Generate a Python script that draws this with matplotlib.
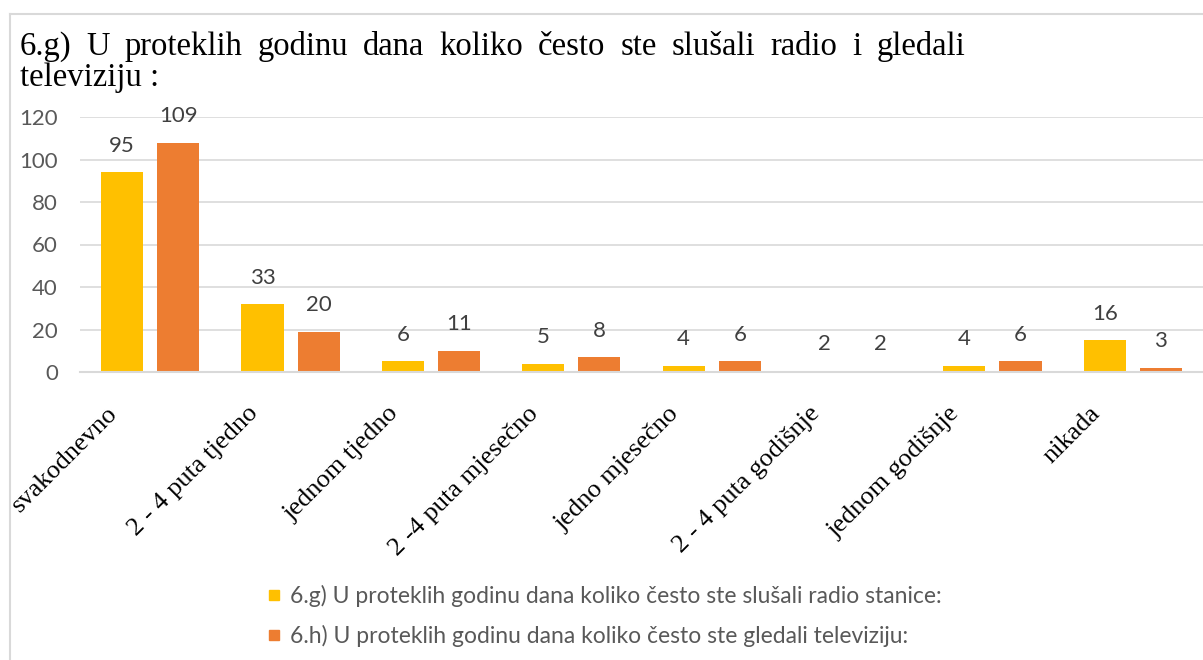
import matplotlib
matplotlib.use("Agg")
import matplotlib.pyplot as plt
import matplotlib.transforms as mtransforms
from matplotlib.font_manager import FontProperties
from matplotlib.lines import Line2D
import numpy as np

# data
categories = ["svakodnevno", "2 - 4 puta tjedno", "jednom tjedno", "2 -4 puta mjesečno",
              "jedno mjesečno", "2 - 4 puta godišnje", "jednom godišnje", "nikada"]
radio_bars = [94, 32, 5, 4, 3, 0.6, 3, 15]
tv_bars    = [108, 19, 10, 7, 5, 0.6, 5, 2]
radio_labels = [95, 33, 6, 5, 4, 2, 4, 16]
tv_labels    = [109, 20, 11, 8, 6, 2, 6, 3]
yticks = [0, 20, 40, 60, 80, 100, 120]

title_line1 = "6.g) U proteklih godinu dana koliko često ste slušali radio i gledali"
title_line2 = "televiziju :"
legend_radio = "6.g) U proteklih godinu dana koliko često ste slušali radio stanice:"
legend_tv = "6.h) U proteklih godinu dana koliko često ste gledali televiziju:"

YELLOW = "#FFC000"
ORANGE = "#ED7D31"
GRID = "#D9D9D9"
SANS = "Lato"
SERIF = "Liberation Serif"

W, H = 1203, 660
fig = plt.figure(figsize=(W / 100, H / 100), dpi=100)
fig.patch.set_facecolor("white")

# outer chart frame (cropped on right/bottom)
fig.add_artist(Line2D([10 / W, 10 / W], [0, 1 - 14 / H], transform=fig.transFigure,
                      color=GRID, lw=1.5))
fig.add_artist(Line2D([10 / W, 1], [1 - 14 / H, 1 - 14 / H], transform=fig.transFigure,
                      color=GRID, lw=1.5))

ax = fig.add_axes([80 / W, 1 - 372 / H, (W - 80) / W, (372 - 117) / H])
x = np.arange(len(categories))
width = 0.3
ax.bar(x - 0.2, radio_bars, width, color=YELLOW, zorder=3)
ax.bar(x + 0.2, tv_bars, width, color=ORANGE, zorder=3)

for xi, b, lab in zip(x - 0.2, radio_bars, radio_labels):
    ax.annotate(str(lab), (xi, b), xytext=(0, 19), textcoords="offset points",
                ha="center", va="center", fontsize=16, family=SANS, color="#404040")
for xi, b, lab in zip(x + 0.2, tv_bars, tv_labels):
    ax.annotate(str(lab), (xi, b), xytext=(0, 19), textcoords="offset points",
                ha="center", va="center", fontsize=16, family=SANS, color="#404040")

ax.set_xlim(-0.5, len(categories) - 0.5)
ax.set_ylim(0, 120)
ax.set_yticks(yticks)
ax.set_yticklabels([str(t) for t in yticks])
ax.grid(axis="y", color=GRID, lw=1.2, zorder=0)
ax.tick_params(axis="y", length=0, pad=16)
ax.tick_params(axis="x", length=0)
for s in ["top", "right", "left"]:
    ax.spines[s].set_visible(False)
ax.spines["bottom"].set_color(GRID)
ax.spines["bottom"].set_linewidth(1.5)
ax.spines["bottom"].set_zorder(4)

for lbl in ax.get_yticklabels():
    lbl.set_fontproperties(FontProperties(family=SANS, size=16))
    lbl.set_color("#595959")

# category labels drawn as rotated texts under each group
ax.set_xticks(x)
ax.set_xticklabels([])
cat_trans = ax.get_xaxis_transform() + mtransforms.ScaledTranslation(-0.36, -0.38, fig.dpi_scale_trans)
for xi, cat in zip(x, categories):
    ax.text(xi, 0, cat, transform=cat_trans, rotation=45, rotation_mode="anchor",
            ha="right", va="center", fontproperties=FontProperties(family=SERIF, size=19),
            color="black", clip_on=False)

# title, first line justified
renderer = fig.canvas.get_renderer()
words = title_line1.split(" ")
x_left, x_right = 20, 965
widths = []
tmp = []
for w in words:
    t = fig.text(0, 0, w, family=SERIF, fontsize=23.5)
    widths.append(t.get_window_extent(renderer).width)
    tmp.append(t)
gap = (x_right - x_left - sum(widths)) / (len(words) - 1)
cur = x_left
for t, wd in zip(tmp, widths):
    t.set_position((cur / W, 1 - 55 / H))
    t.set_va("baseline")
    cur += wd + gap
fig.text(x_left / W, 1 - 86 / H, title_line2, family=SERIF, fontsize=23.5, va="baseline")

handles = [Line2D([], [], marker="s", ls="", color=YELLOW, markersize=7),
           Line2D([], [], marker="s", ls="", color=ORANGE, markersize=7)]
fig.legend(handles, [legend_radio, legend_tv], loc="center left",
           bbox_to_anchor=(246 / W, 1 - 616 / H), frameon=False,
           prop={"family": SANS, "size": 16.5}, labelcolor="#595959",
           handlelength=0.6, handletextpad=0.4, labelspacing=0.75)

fig.savefig("out.png", dpi=100, facecolor="white")
